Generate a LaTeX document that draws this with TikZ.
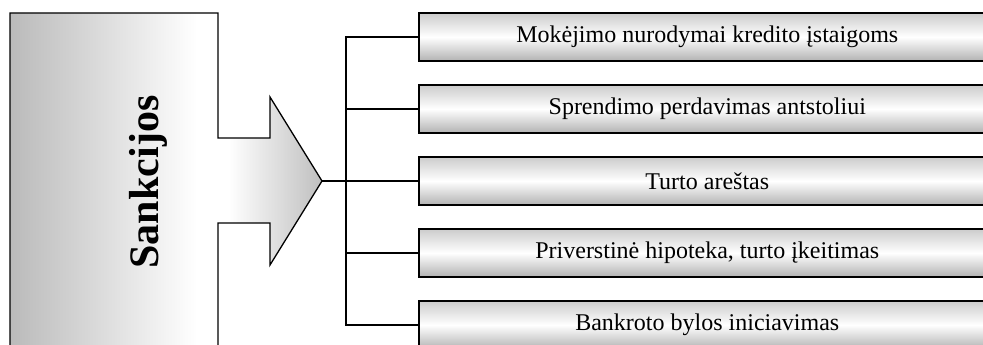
\documentclass[tikz,border=0pt]{standalone}
\usepackage{fontspec}
\setmainfont{Liberation Serif}
\pgfdeclarehorizontalshading{arrowshade}{100bp}{color(0bp)=(black!27); color(25bp)=(black!27); color(55bp)=(white); color(60bp)=(white); color(75bp)=(black!25); color(100bp)=(black!25)}
\tikzset{
  conn/.style={line width=1.3pt, black},
  optbox/.style={draw=black, line width=1.6pt, minimum width=577pt, minimum height=48pt, inner sep=0pt,
    top color=black!20, bottom color=black!30, middle color=white, anchor=west,
    font=\fontsize{24}{29}\selectfont},
  bigshape/.style={draw=black, line width=1.3pt, shading=arrowshade},
}
\begin{document}
\begin{tikzpicture}[x=1pt,y=-1pt]
\useasboundingbox (0,0) rectangle (983,345);
\clip (0,0) rectangle (983,345);
\fill[white] (0,0) rectangle (983,345);
% big arrow shape
\draw[bigshape] (10,360) -- (10,13) -- (218,13) -- (218,138) -- (270,138) -- (270,97)
  -- (322,181) -- (270,265) -- (270,223) -- (218,223) -- (218,360);
\node[rotate=90, font=\fontsize{42}{50}\selectfont\bfseries] (sank) at (148,182) {Sankcijos};
\coordinate (tip) at (322,181);
\coordinate (bus) at (346,181);
% boxes
\node[optbox] (b1) at (418,37) {Mokėjimo nurodymai kredito įstaigoms};
\node[optbox] (b2) at (418,109) {Sprendimo perdavimas antstoliui};
\node[optbox] (b3) at (418,181) {Turto areštas};
\node[optbox] (b4) at (418,253) {Priverstinė hipoteka, turto įkeitimas};
\node[optbox] (b5) at (418,325) {Bankroto bylos iniciavimas};
% connectors
\draw[conn] (tip) -- (bus);
\draw[conn] (bus) |- (b1.west);
\draw[conn] (bus) |- (b2.west);
\draw[conn] (bus) -- (b3.west);
\draw[conn] (bus) |- (b4.west);
\draw[conn] (bus) |- (b5.west);
\end{tikzpicture}
\end{document}
